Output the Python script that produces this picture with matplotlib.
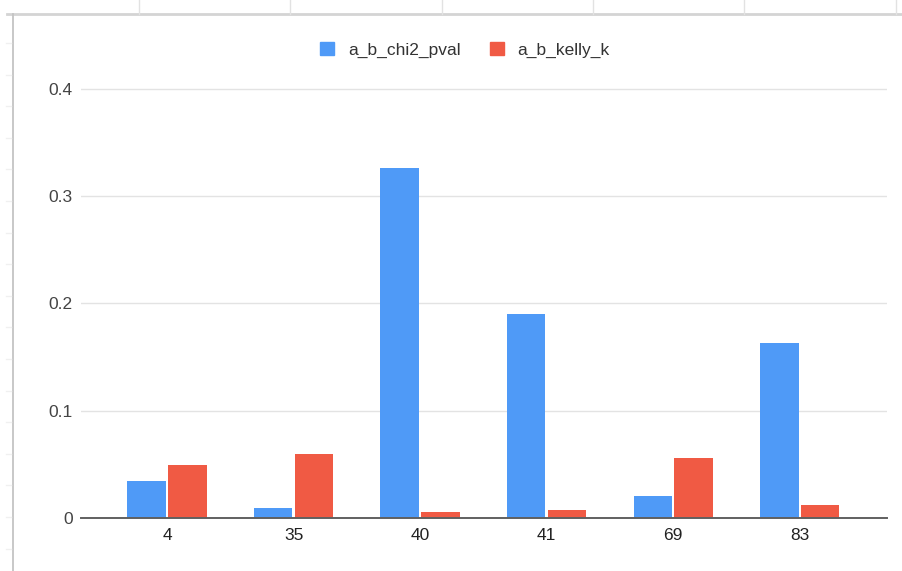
import numpy as np
import matplotlib.pyplot as plt
from matplotlib.lines import Line2D
from matplotlib.patches import Patch

plt.rcParams['font.family'] = ['Liberation Sans', 'DejaVu Sans']

# chart data
categories = ['4', '35', '40', '41', '69', '83']
chi2_pval = [0.0345, 0.009, 0.326, 0.190, 0.0205, 0.163]
kelly_k = [0.049, 0.0595, 0.0053, 0.0075, 0.056, 0.0118]

BLUE = '#4f9af7'
RED = '#f05a44'

fig = plt.figure(figsize=(9.03, 5.71), dpi=100)
W, H = 903, 571

# spreadsheet frame around the embedded chart
frame = [
    ([7 / W, 1], [1 - 14 / H, 1 - 14 / H], '#d4d4d4', 2.0),
    ([13 / W, 13 / W], [0, 1 - 14 / H], '#c4c4c4', 1.3),
]
for col_x in [139, 290, 442, 593, 744, 896]:
    frame.append(([col_x / W, col_x / W], [1 - 14 / H, 1], '#e2e2e2', 1.0))
for row_y in np.arange(43, 571, 31.6):
    frame.append(([6 / W, 11 / W], [1 - row_y / H, 1 - row_y / H], '#f0f0f0', 1.0))
for xs, ys, c, lw in frame:
    fig.add_artist(Line2D(xs, ys, color=c, linewidth=lw, transform=fig.transFigure))

ax = fig.add_axes([81 / W, 1 - 518 / H, 806 / W, 433 / H])

x = np.arange(len(categories))
width = 0.304
ax.bar(x - 0.161, chi2_pval, width, color=BLUE, label='a_b_chi2_pval', zorder=2)
ax.bar(x + 0.161, kelly_k, width, color=RED, label='a_b_kelly_k', zorder=2)

ax.set_xlim(-0.68, 5.69)
ax.set_ylim(0, 0.4033)
ax.set_yticks([0, 0.1, 0.2, 0.3, 0.4])
ax.set_yticklabels(['0', '0.1', '0.2', '0.3', '0.4'])
ax.set_xticks(x)
ax.set_xticklabels(categories)

ax.grid(axis='y', color='#e3e3e3', linewidth=1.0, zorder=0)
ax.set_axisbelow(True)
for side in ['top', 'right', 'left']:
    ax.spines[side].set_visible(False)
ax.spines['bottom'].set_color('#606060')
ax.spines['bottom'].set_linewidth(1.4)
ax.spines['bottom'].set_zorder(3)

ax.tick_params(axis='both', length=0, labelsize=12.5)
ax.tick_params(axis='y', pad=6, labelcolor='#444444')
ax.tick_params(axis='x', pad=7, labelcolor='#222222')

handles = [Patch(color=BLUE, label='a_b_chi2_pval'), Patch(color=RED, label='a_b_kelly_k')]
fig.legend(handles=handles, loc='center', bbox_to_anchor=(465 / W, 1 - 50 / H),
           ncol=2, frameon=False, fontsize=12.5, labelcolor='#333333',
           handlelength=0.8, handleheight=0.8, handletextpad=0.8, columnspacing=1.7)

fig.savefig('out.png', dpi=100)
